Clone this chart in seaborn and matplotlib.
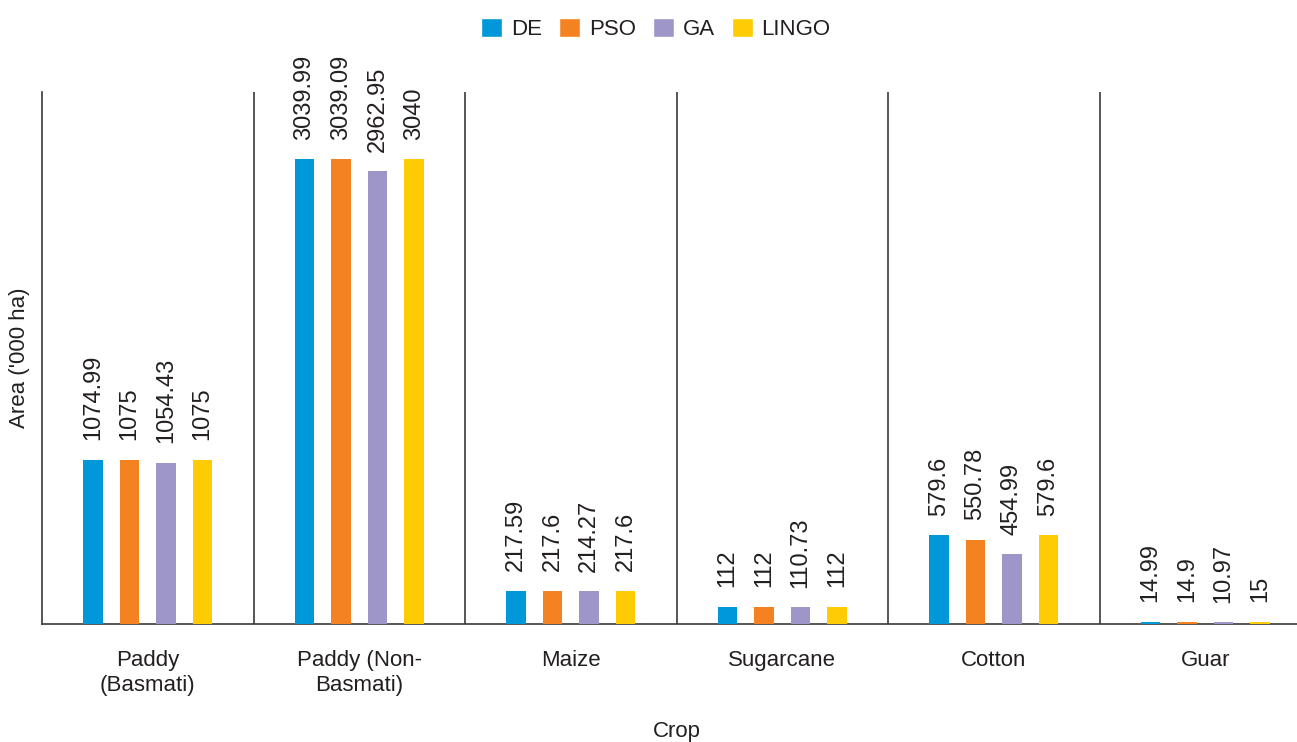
import matplotlib
matplotlib.use("Agg")
import matplotlib.pyplot as plt
import seaborn as sns
import pandas as pd

crops = ["Paddy\n(Basmati)", "Paddy (Non-\nBasmati)", "Maize", "Sugarcane", "Cotton", "Guar"]
methods = ["DE", "PSO", "GA", "LINGO"]
de = [1074.99, 3039.99, 217.59, 112, 579.6, 14.99]
pso = [1075, 3039.09, 217.6, 112, 550.78, 14.9]
ga = [1054.43, 2962.95, 214.27, 110.73, 454.99, 10.97]
lingo = [1075, 3040, 217.6, 112, 579.6, 15]
colors = ["#0098d8", "#f58220", "#9e96c9", "#ffcb05"]

df = pd.DataFrame({
    "Crop": crops * 4,
    "Method": [m for m in methods for _ in crops],
    "Area": de + pso + ga + lingo,
})

sns.set_theme(style="white")
plt.rcParams["font.family"] = ["Liberation Sans", "DejaVu Sans"]
text_color = "#231f20"

fig = plt.figure(figsize=(12.97, 7.42), dpi=100)
ax = fig.add_axes([42 / 1297, 118 / 742, 1269 / 1297, 532 / 742])

sns.barplot(data=df, x="Crop", y="Area", hue="Method", hue_order=methods,
            order=crops, palette=colors, width=0.69, gap=0.46,
            saturation=1, ax=ax)

for cont in ax.containers:
    for bar in cont:
        bar.set_zorder(3)
        bar.set_linewidth(0)
    ax.bar_label(cont, fmt="%g", rotation=90, padding=14,
                 fontsize=17, color=text_color)

ax.set_xlim(-0.5, len(crops) - 0.5)
ax.set_ylim(0, 3480)
ax.set_yticks([])
ax.set_xlabel("")
ax.set_ylabel("")
ax.tick_params(axis="x", length=0, pad=19, labelsize=16, labelcolor=text_color)

for side in ["top", "right"]:
    ax.spines[side].set_visible(False)
for side in ["left", "bottom"]:
    ax.spines[side].set_color("#3a3a3a")
    ax.spines[side].set_linewidth(1.2)
    ax.spines[side].set_zorder(2)

# group separators
for i in range(len(crops) - 1):
    ax.axvline(i + 0.5, color="#3a3a3a", linewidth=1.2, zorder=2)

handles, labels = ax.get_legend_handles_labels()
ax.legend(handles, labels, loc="center", bbox_to_anchor=(656 / 1297, 1 - 29 / 742),
          bbox_transform=fig.transFigure, ncol=4, frameon=False,
          fontsize=16, handlelength=0.95, handleheight=0.95,
          handletextpad=0.4, columnspacing=0.75, labelcolor=text_color)

fig.text(20 / 1297, 1 - 358 / 742, "Area ('000 ha)", rotation=90,
         ha="center", va="center", fontsize=16, color=text_color)
fig.text(676.5 / 1297, 1 - 732 / 742, "Crop", ha="center", va="center",
         fontsize=16, color=text_color)

fig.savefig("out.png", dpi=100)
